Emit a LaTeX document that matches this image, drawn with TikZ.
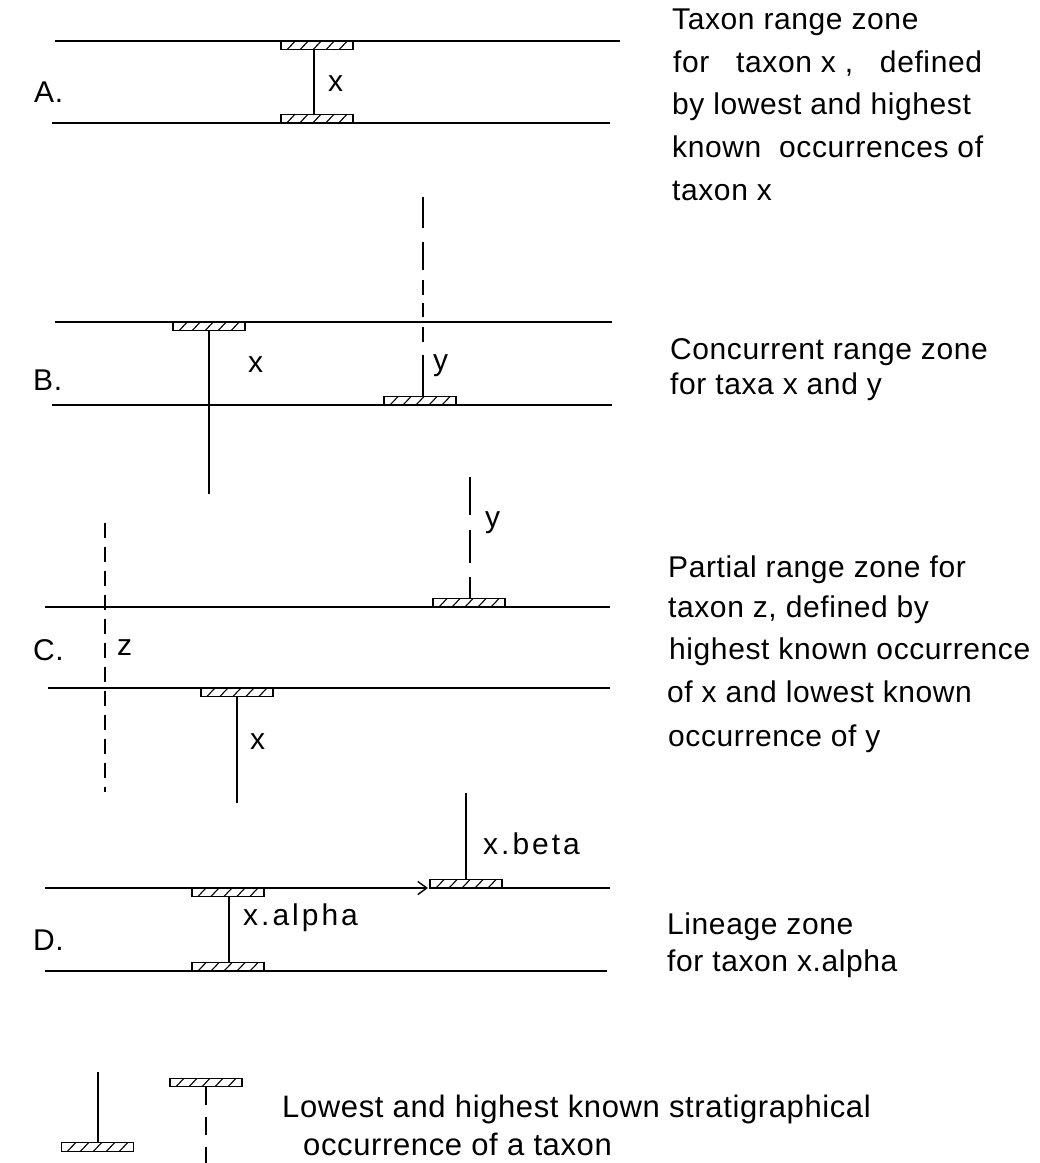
\documentclass[tikz,border=0pt]{standalone}
\usepackage{fontspec}
\setmainfont{Liberation Sans}[LetterSpace=2]
\newfontfamily\spacedfont{Liberation Sans}[LetterSpace=10]
\usetikzlibrary{arrows.meta}
\tikzset{
  hline/.style={line width=1.6pt},
  vline/.style={line width=1.3pt},
  txt/.style={anchor=base west, inner sep=0pt, font=\fontsize{30}{32}\selectfont},
  legtxt/.style={anchor=base west, inner sep=0pt, font=\fontsize{31}{33}\selectfont},
  lab/.style={anchor=base west, inner sep=0pt, font=\fontsize{30}{32}\selectfont},
  slab/.style={anchor=base west, inner sep=0pt, font=\spacedfont\fontsize{30}{32}\selectfont},
  hatchbar/.pic={
    \draw[line width=1.2pt] (-36,-4.2) rectangle (36,4.2);
    \foreach \i in {-26,-13,0,13,26} \draw[line width=1.1pt] (\i-4,4.2) -- (\i+4,-4.2);
  }
}
\begin{document}
\begin{tikzpicture}[x=1pt,y=-1pt]
\useasboundingbox (0,0) rectangle (1040,1163);
% ---------- A ----------
\node[lab] (la) at (34,102) {A.};
\draw[hline] (55,41) -- (620,41);
\draw[hline] (52,123) -- (610,123);
\pic at (317,45.5) {hatchbar};
\pic at (317,118.5) {hatchbar};
\coordinate (ax1) at (314,49.7);
\coordinate (ax2) at (314,114.3);
\draw[vline] (ax1) -- (ax2);
\node[lab] (ax) at (328,91) {x};
\node[txt] (ta1) at (672,29) {Taxon range zone};
\node[txt] (ta2) at (673,72) {for\ \ \ taxon x ,\ \ \ defined};
\node[txt] (ta3) at (672,114) {by lowest and highest};
\node[txt] (ta4) at (672,157) {known\ \ occurrences of};
\node[txt] (ta5) at (672,200) {taxon x};
% ---------- B ----------
\node[lab] (lb) at (33,390) {B.};
\draw[hline] (55,322) -- (612,322);
\draw[hline] (52,405) -- (612,405);
\pic at (209,326.5) {hatchbar};
\coordinate (bx1) at (209,330.7);
\coordinate (bx2) at (209,494);
\draw[vline] (bx1) -- (bx2);
\node[lab] (bx) at (248,372) {x};
\pic at (420,400.8) {hatchbar};
\coordinate (by0) at (423,197);
\coordinate (by3) at (423,396.6);
\draw[vline, dash pattern=on 31pt off 14pt on 28pt off 10pt on 15pt off 8pt on 14pt off 10pt on 15pt off 13pt on 60pt off 0pt] (by0) -- (by3);
\node[lab] (by) at (433,370) {y};
\node[txt] (tb1) at (670,359) {Concurrent range zone};
\node[txt] (tb2) at (670,394) {for taxa x and y};
% ---------- C ----------
\node[lab] (lc) at (33,660) {C.};
\draw[hline] (45,607) -- (610,607);
\draw[hline] (48,688) -- (610,688);
\pic at (469,602.8) {hatchbar};
\coordinate (cy0) at (470,477);
\coordinate (cy1) at (470,598.6);
\draw[vline, dash pattern=on 38pt off 15pt on 33pt off 14pt on 40pt off 0pt] (cy0) -- (cy1);
\node[lab] (cy) at (485,527) {y};
\coordinate (cz0) at (105,523);
\coordinate (cz1) at (105,792);
\draw[vline, dash pattern=on 15pt off 9pt] (cz0) -- (cz1);
\node[lab] (cz) at (117,655) {z};
\pic at (237,692.2) {hatchbar};
\coordinate (cx1) at (237,696.4);
\coordinate (cx2) at (237,803);
\draw[vline] (cx1) -- (cx2);
\node[lab] (cx) at (250,749) {x};
\node[txt] (tc1) at (668,577) {Partial range zone for};
\node[txt] (tc2) at (668,617) {taxon z, defined by};
\node[txt] (tc3) at (669,659) {highest known occurrence};
\node[txt] (tc4) at (667,702) {of x and lowest known};
\node[txt] (tc5) at (668,746) {occurrence of y};
% ---------- D ----------
\node[lab] (ld) at (33,950) {D.};
\coordinate (dl0) at (45,888);
\coordinate (dl1) at (428,888);
\coordinate (dl2) at (502,888);
\coordinate (dl3) at (610,888);
\draw[hline, -{Straight Barb[length=9pt,width=13pt,line width=1.4pt]}] (dl0) -- (dl1);
\draw[hline] (dl2) -- (dl3);
\draw[hline] (45,971) -- (607,971);
\pic at (466,883.8) {hatchbar};
\coordinate (db0) at (466,793);
\coordinate (db1) at (466,879.6);
\draw[vline] (db0) -- (db1);
\node[slab] (dbeta) at (483,854) {x.beta};
\pic at (228,892.2) {hatchbar};
\pic at (228,966.8) {hatchbar};
\coordinate (da1) at (229,896.4);
\coordinate (da2) at (229,962.6);
\draw[vline] (da1) -- (da2);
\node[slab] (dalpha) at (243,925) {x.alpha};
\node[txt] (td1) at (667,934) {Lineage zone};
\node[txt] (td2) at (667,971) {for taxon x.alpha};
% ---------- legend ----------
\pic at (97.5,1147) {hatchbar};
\coordinate (g1) at (98,1072);
\coordinate (g2) at (98,1142.8);
\draw[vline] (g1) -- (g2);
\pic at (206,1082.5) {hatchbar};
\coordinate (g3) at (206,1086.7);
\coordinate (g4) at (206,1163);
\draw[vline, dash pattern=on 18pt off 12pt] (g3) -- (g4);
\node[legtxt] (tg1) at (282,1117) {Lowest and highest known stratigraphical};
\node[legtxt] (tg2) at (303,1155) {occurrence of a taxon};
\end{tikzpicture}
\end{document}
